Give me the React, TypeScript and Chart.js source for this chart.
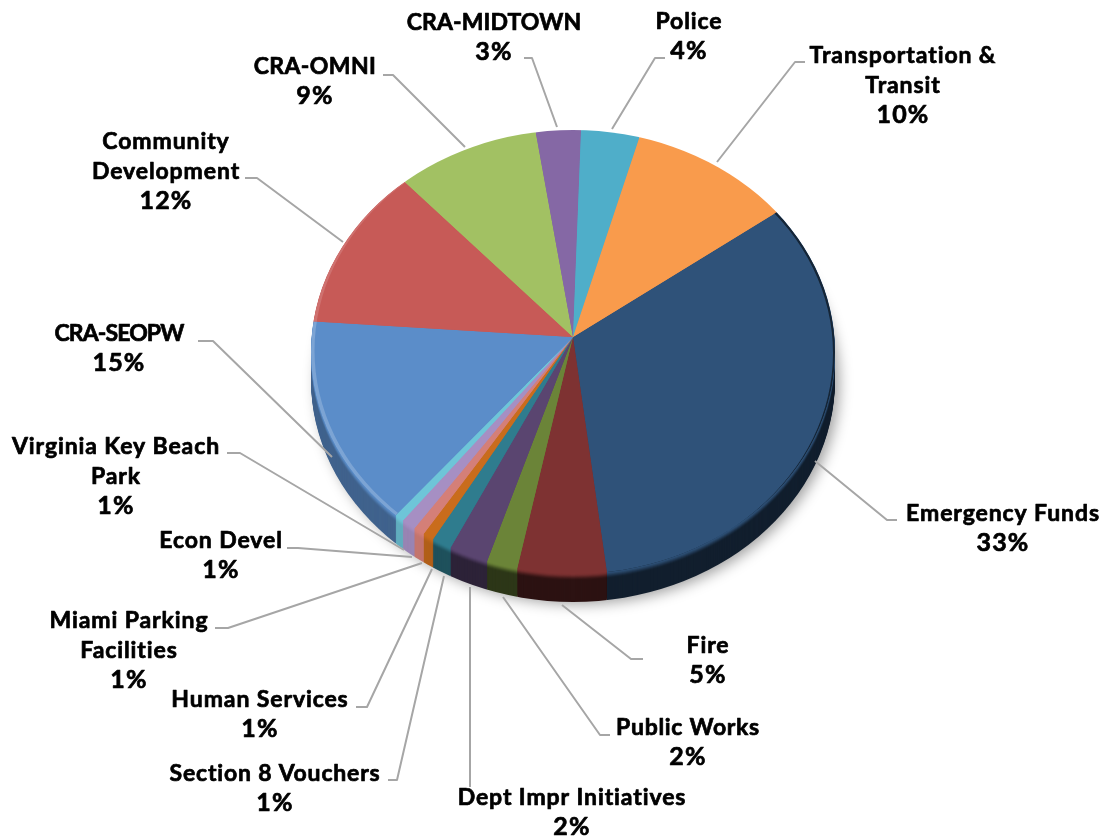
import React, { useEffect, useRef } from "react";
import { Chart, registerables } from "chart.js";

Chart.register(...registerables);

const categories = [
  "Emergency Funds", "Fire", "Public Works", "Dept Impr Initiatives", "Section 8 Vouchers",
  "Human Services", "Miami Parking Facilities", "Econ Devel", "Virginia Key Beach Park",
  "CRA-SEOPW", "Community Development", "CRA-OMNI", "CRA-MIDTOWN", "Police", "Transportation & Transit",
];
const shares = [33.4, 5.5, 1.9, 2.4, 1.2, 0.67, 0.67, 0.86, 0.56, 14.5, 12.5, 9, 2.76, 3.6, 10.4];
const percentLabels = ["33%", "5%", "2%", "2%", "1%", "1%", "1%", "1%", "1%", "15%", "12%", "9%", "3%", "4%", "10%"];
const nameLines = [
  ["Emergency Funds"], ["Fire"], ["Public Works"], ["Dept Impr Initiatives"], ["Section 8 Vouchers"],
  ["Human Services"], ["Miami Parking", "Facilities"], ["Econ Devel"], ["Virginia Key Beach", "Park"],
  ["CRA-SEOPW"], ["Community", "Development"], ["CRA-OMNI"], ["CRA-MIDTOWN"], ["Police"], ["Transportation &", "Transit"],
];
const sliceColors = [
  "#2F5279", "#7E3232", "#6B8438", "#5A4570", "#2F7C8E", "#C96C1C", "#D47F78", "#A68FC3",
  "#6EC5D8", "#5B8DC9", "#C75A57", "#A2C163", "#8568A5", "#4FAEC9", "#F99B4C",
];
const sideDarkness = [0.62, 0.65, 0.58, 0.5, 0.35, 0.12, 0.08, 0.08, 0.12, 0.3, 0.3, 0.3, 0.3, 0.3, 0.3];
const leftBevel = [0, 0, 0, 0, 0, 0, 0, 0, 0, 0.2, 0.14, 0, 0, 0, 0];
const rightBevel = [0.55, 0, 0, 0, 0, 0, 0, 0, 0, 0, 0, 0, 0, 0, 0];

// label layout: centre x, y of first line centre, letter spacing of the name
const labelX = [1003, 708, 688, 572, 275, 260, 129, 221, 116, 119, 166, 315, 494, 689, 903];
const labelY = [514, 646, 728, 798, 774, 700, 621, 541, 447, 334, 142, 67, 23, 22, 56];
const nameSpacing = [0.9, 0.9, 0.7, 0.9, 0.8, 0.9, 0.9, 0.9, 0.9, -0.9, 0.9, 0.4, 0.1, 0.9, 0.9];
const leaders = [
  [[897, 520], [887, 520], [815, 461]],
  [[643, 659], [631, 659], [562, 605]],
  [[610, 735], [600, 735], [503, 597]],
  [[470, 787], [470, 775], [470, 587]],
  [[388, 780], [397, 780], [444, 576]],
  [[356, 707], [367, 707], [432, 569]],
  [[215, 628], [228, 628], [422, 563]],
  [[287, 548], [298, 548], [412, 557]],
  [[227, 453], [240, 453], [404, 550]],
  [[198, 341], [213, 341], [332, 457]],
  [[245, 178], [257, 178], [343, 242]],
  [[383, 75], [393, 75], [465, 147]],
  [[524, 58], [532, 58], [557, 127]],
  [[665, 58], [655, 58], [612, 129]],
  [[805, 62], [795, 62], [717, 162]],
];

const RIM_RX = 262;
const RIM_RY = 222;
const RIM_CENTRE_DROP = 15;
const DEPTH = 28;
const REACH_UP = 207 * 1.07;
const REACH_DOWN = 238 * 1.07;
const REACH_SIDE = 262 * 1.07;
const LINE_HEIGHT = 29.3;

function darken(hex: string, k: number): string {
  const n = parseInt(hex.slice(1), 16);
  const f = (v: number) => Math.round(v * (1 - k));
  return `rgb(${f((n >> 16) & 255)},${f((n >> 8) & 255)},${f(n & 255)})`;
}
function lighten(hex: string, k: number): string {
  const n = parseInt(hex.slice(1), 16);
  const f = (v: number) => Math.round(v + (255 - v) * k);
  return `rgb(${f((n >> 16) & 255)},${f((n >> 8) & 255)},${f(n & 255)})`;
}

const piePlugin = {
  id: "tiltedPie",
  beforeDatasetsDraw(chart: any) {
    const ctx: CanvasRenderingContext2D = chart.ctx;
    const arcs = chart.getDatasetMeta(0).data;
    const { x: cx, y: cy, outerRadius: R } = arcs[0];
    const W = chart.width;
    const H = chart.height;
    const rimCy = cy + RIM_CENTRE_DROP;

    const paint = (dy: number, colorOf: (i: number) => string | null, extra?: () => void) => {
      ctx.save();
      ctx.beginPath();
      ctx.ellipse(cx, rimCy + dy, RIM_RX, RIM_RY, 0, 0, Math.PI * 2);
      ctx.clip();
      if (extra) extra();
      [0, 1].forEach((piece) => {
        ctx.save();
        ctx.beginPath();
        if (piece === 0) ctx.rect(0, 0, W, cy + dy);
        else ctx.rect(0, cy + dy, W, H - cy - dy);
        ctx.clip();
        ctx.translate(cx, cy + dy);
        ctx.scale(REACH_SIDE / R, (piece === 0 ? REACH_UP : REACH_DOWN) / R);
        ctx.translate(-cx, -cy);
        arcs.forEach((arc: any, i: number) => {
          const c = colorOf(i);
          if (!c) return;
          const saved = arc.options;
          arc.options = { ...saved, backgroundColor: c, borderWidth: 0 };
          arc.draw(ctx);
          arc.options = saved;
        });
        ctx.restore();
      });
      ctx.restore();
    };

    // drop shadow under the disc
    ctx.save();
    ctx.shadowColor = "rgba(0,0,0,0.38)";
    ctx.shadowBlur = 14;
    ctx.shadowOffsetX = 5;
    ctx.shadowOffsetY = 4;
    ctx.fillStyle = "#666";
    ctx.beginPath();
    ctx.ellipse(cx, rimCy + DEPTH - 1, RIM_RX - 1, RIM_RY - 1, 0, 0, Math.PI * 2);
    ctx.fill();
    ctx.restore();

    // side wall, deepest layer first
    for (let d = DEPTH; d >= 1; d--) {
      const t = Math.min(1, d / 7);
      const ease = t * t * (3 - 2 * t);
      paint(d, (i) => darken(sliceColors[i], sideDarkness[i] * ease));
    }

    // top face
    paint(0, (i) => sliceColors[i]);

    // lit crescent along the left rim
    paint(0, (i) => (leftBevel[i] ? lighten(sliceColors[i], leftBevel[i]) : null), () => {
      ctx.beginPath();
      ctx.ellipse(cx, rimCy, RIM_RX, RIM_RY, 0, 0, Math.PI * 2);
      ctx.ellipse(cx + 3.5, rimCy - 1.5, RIM_RX, RIM_RY, 0, 0, Math.PI * 2);
      ctx.clip("evenodd");
    });
    // shaded crescent along the right rim, tapering away towards the lower right
    paint(0, (i) => (rightBevel[i] ? darken(sliceColors[i], rightBevel[i]) : null), () => {
      ctx.beginPath();
      ctx.ellipse(cx, rimCy, RIM_RX, RIM_RY, 0, 0, Math.PI * 2);
      ctx.ellipse(cx - 2, rimCy + 1.2, RIM_RX, RIM_RY, 0, 0, Math.PI * 2);
      ctx.clip("evenodd");
    });
    return false;
  },
  afterDraw(chart: any) {
    const ctx: CanvasRenderingContext2D = chart.ctx;
    ctx.save();
    ctx.strokeStyle = "#A6A6A6";
    ctx.lineWidth = 2;
    ctx.lineJoin = "round";
    leaders.forEach((pts) => {
      ctx.beginPath();
      pts.forEach(([x, y], j) => (j === 0 ? ctx.moveTo(x, y) : ctx.lineTo(x, y)));
      ctx.stroke();
    });
    ctx.fillStyle = "#000";
    ctx.strokeStyle = "#000";
    ctx.lineWidth = 0.7;
    ctx.textAlign = "center";
    ctx.textBaseline = "middle";
    const put = (text: string, x: number, y: number) => {
      ctx.fillText(text, x, y);
      ctx.strokeText(text, x, y);
    };
    categories.forEach((_, i) => {
      ctx.font = "700 23px Lato, 'Open Sans', sans-serif";
      (ctx as any).letterSpacing = `${nameSpacing[i]}px`;
      nameLines[i].forEach((text, j) => put(text, labelX[i], labelY[i] + j * LINE_HEIGHT));
      ctx.font = "700 25px Lato, 'Open Sans', sans-serif";
      (ctx as any).letterSpacing = "1.2px";
      put(percentLabels[i], labelX[i], labelY[i] + nameLines[i].length * LINE_HEIGHT);
    });
    ctx.restore();
  },
};

export default function App() {
  const ref = useRef<HTMLCanvasElement>(null);
  useEffect(() => {
    const chart = new Chart(ref.current as HTMLCanvasElement, {
      type: "pie",
      data: {
        labels: categories,
        datasets: [{ data: shares, backgroundColor: sliceColors, borderWidth: 0 }],
      },
      options: {
        animation: false,
        responsive: false,
        rotation: 52.2,
        layout: { padding: { left: 363, right: 319, top: 127, bottom: 290 } },
        plugins: { legend: { display: false }, tooltip: { enabled: false } },
      },
      plugins: [piePlugin],
    } as any);
    return () => chart.destroy();
  }, []);
  return (
    <canvas
      ref={ref}
      width={1102}
      height={837}
      style={{ position: "absolute", left: 0, top: 0, width: 1102, height: 837, background: "#fff" }}
    />
  );
}
